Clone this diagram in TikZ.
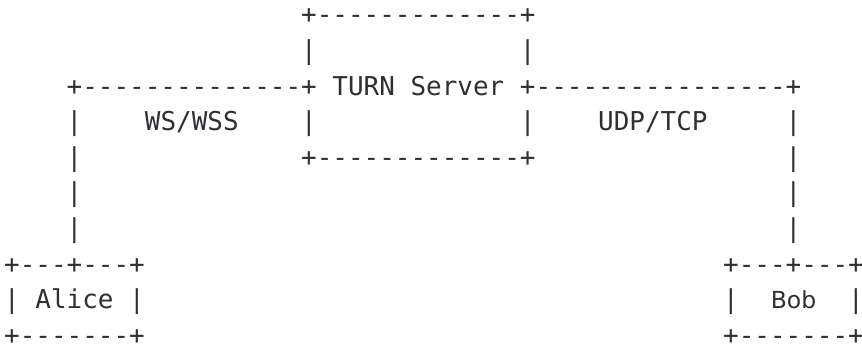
\documentclass[tikz,border=0pt]{standalone}
\usepackage{fontspec}
\setmonofont{DejaVu Sans Mono}
\newfontfamily\bobfont{DejaVu Sans}
\definecolor{ink}{HTML}{2E3033}
\tikzset{
  asc/.style={font=\ttfamily\fontsize{25.96}{30}\selectfont, text=ink, inner sep=0pt, outer sep=0pt, anchor=base west},
  bobtxt/.style={font=\bobfont\fontsize{23.5}{28}\selectfont, text=ink, inner sep=0pt, outer sep=0pt, anchor=base}
}
\begin{document}
\begin{tikzpicture}
\useasboundingbox (0,0) rectangle (862pt,-347pt);
\begin{scope}[x=15.63pt, y=-35.6pt, shift={(4.2pt,-24pt)}]
% row 1-2: top of TURN server box
\node[asc] (r1a) at (19,0) {+-------------+};
\node[asc] (r2a) at (19,1) {|};
\node[asc] (r2b) at (33,1) {|};
% row 3
\node[asc] (r3a) at (4,2) {+--------------+};
\node[asc] (turn) at (21,2) {TURN Server};
\node[asc] (r3b) at (33,2) {+----------------+};
% row 4
\node[asc] (r4a) at (4,3) {|};
\node[asc] (ws) at (9,3) {WS/WSS};
\node[asc] (r4b) at (19,3) {|};
\node[asc] (r4c) at (33,3) {|};
\node[asc] (udp) at (38,3) {UDP/TCP};
\node[asc] (r4d) at (50,3) {|};
% row 5
\node[asc] (r5a) at (4,4) {|};
\node[asc] (r5b) at (19,4) {+-------------+};
\node[asc] (r5c) at (50,4) {|};
% rows 6-7
\node[asc] (r6a) at (4,5) {|};
\node[asc] (r6b) at (50,5) {|};
\node[asc] (r7a) at (4,6) {|};
\node[asc] (r7b) at (50,6) {|};
% row 8
\node[asc] (r8a) at (0,7) {+---+---+};
\node[asc] (r8b) at (46,7) {+---+---+};
% row 9
\node[asc] (r9a) at (0,8) {|};
\node[asc] (alice) at (2,8) {Alice};
\node[asc] (r9b) at (8,8) {|};
\node[asc] (r9c) at (46,8) {|};
\node[bobtxt] (bob) at (50.5,8) {Bob};
\node[asc] (r9d) at (54,8) {|};
% row 10
\node[asc] (r10a) at (0,9) {+-------+};
\node[asc] (r10b) at (46,9) {+-------+};
\end{scope}
\end{tikzpicture}
\end{document}
